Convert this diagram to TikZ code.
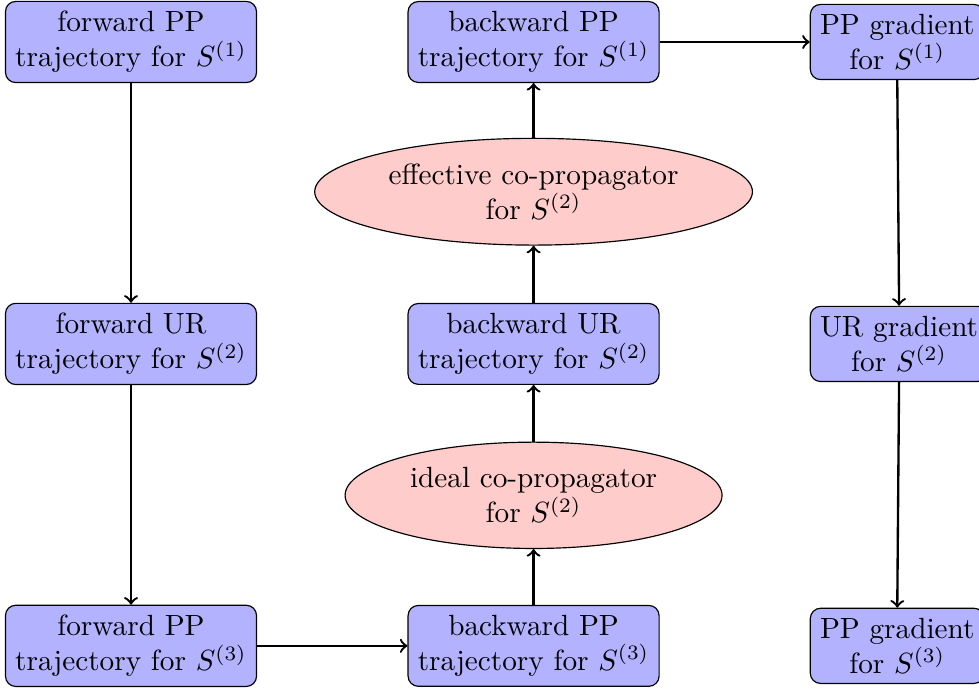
\documentclass[tikz,border=0pt]{standalone}
\usepackage{tikz}
\usetikzlibrary{shapes.geometric}

\begin{document}
\begin{tikzpicture}[
        traj/.style={rectangle, draw=black, fill=blue!30, rounded corners=3.5pt, align=center},
        grad/.style={rectangle, draw=black, fill=blue!30, rounded corners=3.5pt, align=center, anchor=west},
        coprop/.style={ellipse, draw=black, fill=red!20, align=center},
        flow/.style={->, thick}
    ]
        \useasboundingbox (-1.575,0.505) rectangle (10.195,-7.79);

        % Forward trajectories
        \node[traj] (fwd1) at (0,0) {forward PP\\trajectory for $S^{(1)}$};
        \node[traj] (fwd2) at (0,-3.63) {forward UR\\trajectory for $S^{(2)}$};
        \node[traj] (fwd3) at (0,-7.26) {forward PP\\trajectory for $S^{(3)}$};

        % Backward trajectories and co-propagators
        \node[traj] (bwd3) at (4.84,-7.26) {backward PP\\trajectory for $S^{(3)}$};
        \node[coprop] (ideal) at (4.84,-5.45) {ideal co-propagator\\for $S^{(2)}$};
        \node[traj] (bwd2) at (4.84,-3.63) {backward UR\\trajectory for $S^{(2)}$};
        \node[coprop] (eff) at (4.84,-1.80) {effective co-propagator\\for $S^{(2)}$};
        \node[traj] (bwd1) at (4.84,0) {backward PP\\trajectory for $S^{(1)}$};

        % Gradients
        \node[grad] (grad1) at (8.16,0) {PP gradient\\for $S^{(1)}$};
        \node[grad] (grad2) at (8.16,-3.63) {UR gradient\\for $S^{(2)}$};
        \node[grad] (grad3) at (8.16,-7.26) {PP gradient\\for $S^{(3)}$};

        % Connections
        \draw[flow] (fwd1.south) -- (fwd2.north);
        \draw[flow] (fwd2.south) -- (fwd3.north);
        \draw[flow] (fwd3.east) -- (bwd3.west);
        \draw[flow] (bwd3.north) -- (ideal.south);
        \draw[flow] (ideal.north) -- (bwd2.south);
        \draw[flow] (bwd2.north) -- (eff.south);
        \draw[flow] (eff.north) -- (bwd1.south);
        \draw[flow] (bwd1.east) -- (grad1.west);
        \draw[flow] (grad1.south) -- (grad2.north);
        \draw[flow] (grad2.south) -- (grad3.north);
    \end{tikzpicture}
\end{document}
